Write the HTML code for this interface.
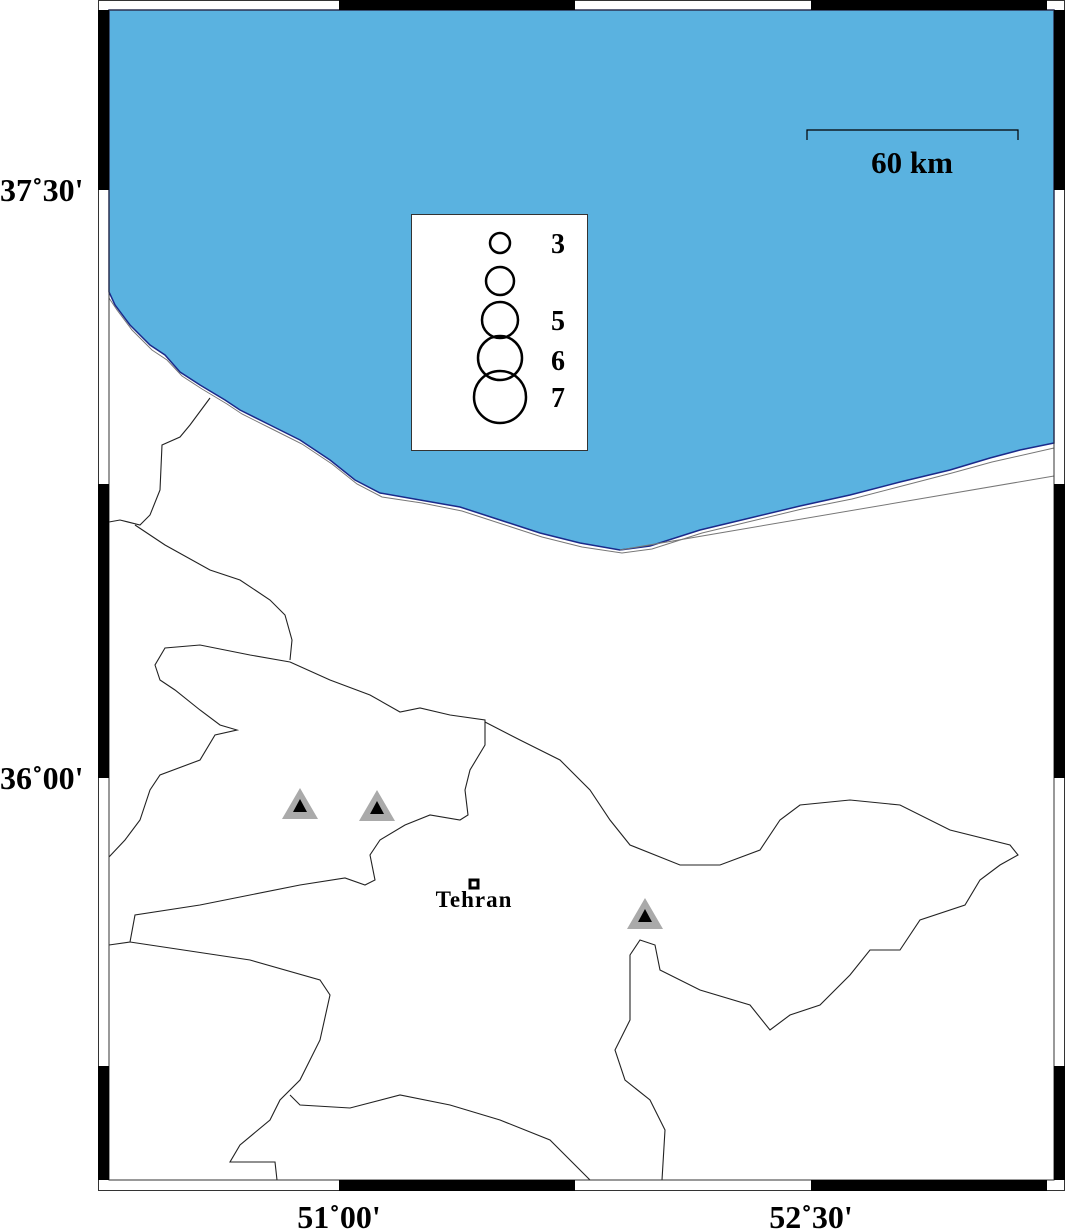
<!DOCTYPE html>
<html><head><meta charset="utf-8"><style>
html,body{margin:0;padding:0;background:#fff;}
svg{display:block;}
text{font-family:"Liberation Serif",serif;font-weight:bold;fill:#000;}
</style></head><body>
<svg width="1066" height="1229" viewBox="0 0 1066 1229" xmlns="http://www.w3.org/2000/svg">
<rect x="0" y="0" width="1066" height="1229" fill="#fff"/>
<path d="M109,10 L1054,10 L1054,443 L1020,450 L990,458 L950,470 L900,482 L850,495 L800,506 L750,518 L700,530 L650,546 L620,550 L580,543 L540,533 L500,520 L460,507 L420,500 L380,493 L355,480 L330,460 L300,440 L270,425 L240,410 L225,400 L200,385 L180,372 L165,355 L150,345 L130,325 L115,305 L109,292 Z" fill="#5ab2e0" stroke="#1a2a8a" stroke-width="1.5"/>
<path d="M109,298 L117,310 L132,330 L152,350 L167,360 L182,376 L202,389 L227,404 L242,414 L272,429 L302,444 L332,464 L357,484 L382,497 L422,503 L462,511 L502,524 L542,537 L582,547 L622,553 L652,549 L702,533 L752,521 L802,509 L852,499 L902,486 L952,473 L992,462 L1054,448" fill="none" stroke="#777" stroke-width="1"/>
<path d="M620,550 L1054,476" fill="none" stroke="#777" stroke-width="1"/>
<g fill="none" stroke="#222" stroke-width="1.1">
<path d="M210,398 L190,425 L180,437 L162,445 L160,490 L150,515 L140,525 L120,520 L109,522"/>
<path d="M135,525 L165,545 L210,570 L240,580 L270,600 L285,615 L292,640 L290,660"/>
<path d="M290,662 L250,655 L200,645 L165,648 L155,665 L160,680 L175,690 L200,710 L220,725 L237,730 L215,735 L200,760 L160,775 L150,790 L140,820 L125,840 L109,857"/>
<path d="M290,662 L330,680 L370,695 L400,712 L420,708 L450,715 L485,720 L485,745 L470,770 L465,790 L468,815 L460,820 L430,815 L405,825 L380,840 L370,855 L375,880 L365,885 L345,878 L300,885 L250,895 L200,905 L135,915 L130,942 L109,945"/>
<path d="M485,722 L520,740 L560,760 L590,790 L610,820 L630,845 L680,865 L720,865 L760,850 L780,820 L800,805 L850,800 L900,805 L950,830 L1010,845 L1018,855 L1000,865 L980,880 L965,905 L920,920 L900,950 L870,950 L850,975 L820,1005 L790,1015 L770,1030 L750,1005 L700,990 L660,970 L655,945 L640,940 L630,955 L630,1020 L615,1050 L625,1080 L650,1100 L665,1130 L662,1180"/>
<path d="M130,942 L250,960 L320,980 L330,995 L320,1040 L300,1080 L280,1100 L270,1120 L240,1145 L230,1162 L275,1162 L277,1180"/>
<path d="M290,1095 L300,1105 L350,1108 L400,1095 L450,1105 L500,1120 L550,1140 L590,1180"/>
</g>
<rect x="98.5" y="0.5" width="966" height="1190" fill="none" stroke="#333" stroke-width="1"/>
<rect x="109" y="10" width="945" height="1170" fill="none" stroke="#333" stroke-width="1"/>
<g fill="#000">
<rect x="339" y="0" width="236" height="10"/><rect x="811" y="0" width="236" height="10"/>
<rect x="339" y="1180" width="236" height="11"/><rect x="811" y="1180" width="236" height="11"/>
<rect x="98" y="10" width="11" height="180"/><rect x="98" y="484" width="11" height="294"/><rect x="98" y="1066" width="11" height="114"/>
<rect x="1054" y="10" width="11" height="180"/><rect x="1054" y="484" width="11" height="294"/><rect x="1054" y="1066" width="11" height="114"/>
</g>
<rect x="411.5" y="214.5" width="176" height="236" fill="#fff" stroke="#333"/>
<g fill="none" stroke="#000" stroke-width="2.5">
<circle cx="500" cy="243" r="10"/><circle cx="500" cy="281" r="14"/><circle cx="500" cy="320" r="18"/><circle cx="500" cy="358" r="22"/><circle cx="500" cy="397" r="26"/>
</g>
<g font-size="28"><text x="551" y="253">3</text><text x="551" y="330">5</text><text x="551" y="370">6</text><text x="551" y="407">7</text></g>
<path d="M807,140 V130 H1018 V140" fill="none" stroke="#000" stroke-width="1.2"/>
<text x="912" y="173" font-size="31" text-anchor="middle">60 km</text>
<g>
<polygon points="300,788 282,819 318,819" fill="#aaa"/><polygon points="300,799 293,812 307,812" fill="#000"/>
<polygon points="377,790 359,821 395,821" fill="#aaa"/><polygon points="377,801 370,814 384,814" fill="#000"/>
<polygon points="645,898 627,929 663,929" fill="#aaa"/><polygon points="645,909 638,922 652,922" fill="#000"/>
</g>
<rect x="470" y="880" width="8" height="8" fill="#fff" stroke="#000" stroke-width="3"/>
<text x="474" y="907" font-size="23" text-anchor="middle" letter-spacing="1">Tehran</text>
<g font-size="32">
<text x="0" y="201">37˚30'</text>
<text x="0" y="789">36˚00'</text>
<text x="339" y="1228" text-anchor="middle">51˚00'</text>
<text x="811" y="1228" text-anchor="middle">52˚30'</text>
</g>
</svg>
</body></html>
